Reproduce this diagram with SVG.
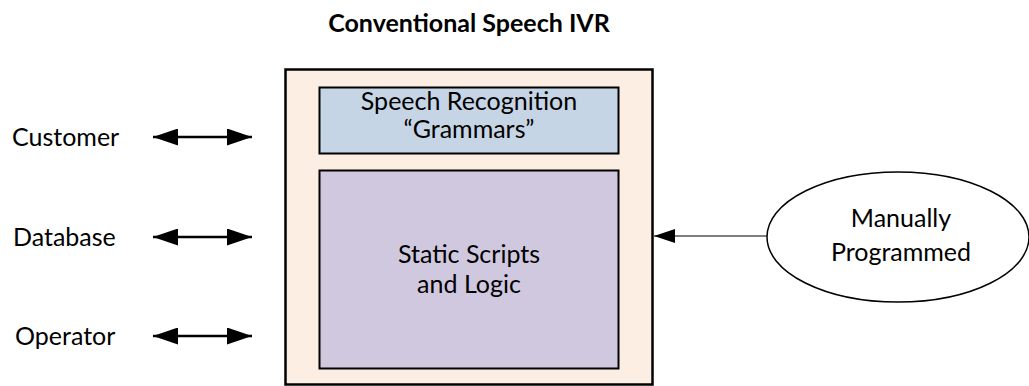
<svg xmlns="http://www.w3.org/2000/svg" width="1029" height="386" viewBox="0 0 1029 386">
<style>
text{font-family:Lato,"Open Sans","Liberation Sans",sans-serif;font-size:25px;fill:#000}
.c{text-anchor:middle}
.t{font-weight:bold;font-size:25px}
.box{stroke:#000}
.conn{stroke:#000;fill:none}
</style>
<defs>
<marker id="big" viewBox="0 0 25 17" refX="25" refY="8.5" markerWidth="25" markerHeight="17" markerUnits="userSpaceOnUse" orient="auto-start-reverse">
<path d="M0,0 L25,8.5 L0,17 Z" fill="#000"/>
</marker>
<marker id="small" viewBox="0 0 21 14" refX="21" refY="7" markerWidth="21" markerHeight="14" markerUnits="userSpaceOnUse" orient="auto">
<path d="M0,0 L21,7 L0,14 Z" fill="#000"/>
</marker>
</defs>
<rect width="1029" height="386" fill="#fff"/>
<g id="title"><text class="c t" x="469" y="32">Conventional Speech IVR</text></g>
<g id="ivr">
<rect class="box" x="285.5" y="69.5" width="367" height="315" fill="#FDEEE3" stroke-width="2.5"/>
</g>
<g id="grammars">
<rect class="box" x="319.5" y="87.5" width="299" height="66" fill="#C6D5E5" stroke-width="2"/>
<text class="c" x="469" y="110">Speech Recognition</text>
<text class="c" x="469" y="138">“Grammars”</text>
</g>
<g id="scripts">
<rect class="box" x="319.5" y="170.5" width="299" height="198" fill="#D0C8DE" stroke-width="2"/>
<text class="c" x="469" y="263">Static Scripts</text>
<text class="c" x="469" y="293">and Logic</text>
</g>
<g id="customer"><text x="12" y="146">Customer</text></g>
<g id="database"><text x="13" y="246">Database</text></g>
<g id="operator"><text x="15" y="345">Operator</text></g>
<g id="manual">
<ellipse cx="898" cy="237" rx="131" ry="65" fill="#fff" stroke="#000" stroke-width="1.5"/>
<text class="c" x="901" y="227">Manually</text>
<text class="c" x="901" y="261">Programmed</text>
</g>
<g id="connectors">
<line class="conn" x1="153" y1="137" x2="252" y2="137" stroke-width="2.3" marker-start="url(#big)" marker-end="url(#big)"/>
<line class="conn" x1="153" y1="237" x2="252" y2="237" stroke-width="2.3" marker-start="url(#big)" marker-end="url(#big)"/>
<line class="conn" x1="153" y1="336" x2="252" y2="336" stroke-width="2.3" marker-start="url(#big)" marker-end="url(#big)"/>
<line class="conn" x1="767" y1="236" x2="654" y2="236" stroke-width="1.2" marker-end="url(#small)"/>
</g>
</svg>
